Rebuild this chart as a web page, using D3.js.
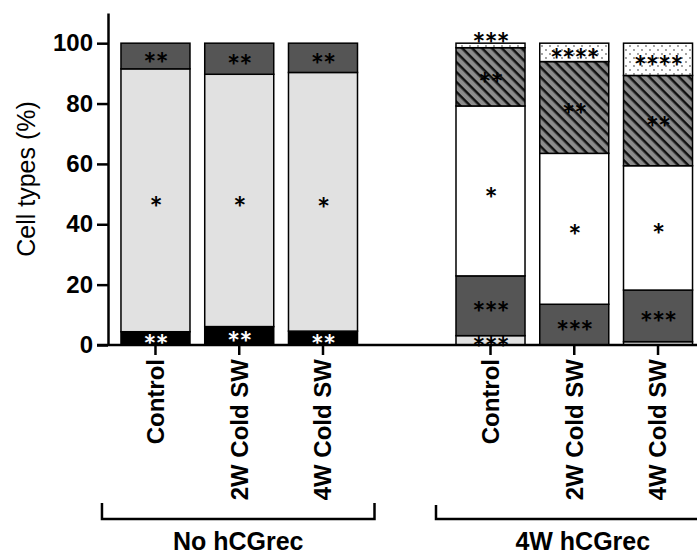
<!DOCTYPE html>
<html>
<head>
<meta charset="utf-8">
<script src="https://cdn.jsdelivr.net/npm/d3@7"></script>
<style>
    body { margin: 0; background: #fff; }
    svg { display: block; font-family: "Liberation Sans", Arial, Helvetica, sans-serif; }
    .axis path, .axis line { stroke: #000; stroke-width: 2.5; }
    .axis text { font-size: 24px; font-weight: bold; fill: #000; }
    .seg { stroke: #000; stroke-width: 1.5; }
    .star { font-family: Lato, sans-serif; font-weight: bold; font-size: 31px; letter-spacing: -1px; text-anchor: middle; }
    .group_label { font-size: 25px; font-weight: bold; text-anchor: middle; }
</style>
</head>
<body>
<svg id="chart" width="697" height="557"></svg>
<script>
// bars, left to right (a blank slot separates the two groups)
let categories = ["Control", "2W Cold SW", "4W Cold SW", "Control", "2W Cold SW", "4W Cold SW"],
    slots = ["a0", "a1", "a2", "gap", "b0", "b1", "b2"],
    barSlots = ["a0", "a1", "a2", "b0", "b1", "b2"];

let groups = ["No hCGrec", "4W hCGrec"];

// cell type shares (%), bottom to top of each bar
let black   = [4.4, 6.1, 4.6, 0, 0, 0],
    light   = [87.1, 83.6, 85.7, 3.1, 0, 1.1],
    dark    = [8.5, 10.3, 9.7, 19.8, 13.5, 17.1],
    white   = [0, 0, 0, 56.3, 50.0, 41.2],
    hatched = [0, 0, 0, 19.3, 30.4, 29.9],
    dotted  = [0, 0, 0, 1.5, 6.1, 10.7];

// significance marks on each segment
let blackMarks   = ["**", "**", "**", "", "", ""],
    lightMarks   = ["*", "*", "*", "***", "", ""],
    darkMarks    = ["**", "**", "**", "***", "***", "***"],
    whiteMarks   = ["", "", "", "*", "*", "*"],
    hatchedMarks = ["", "", "", "**", "**", "**"],
    dottedMarks  = ["", "", "", "***", "****", "****"];

let yTicks = [0, 20, 40, 60, 80, 100];

let keys = ["black", "light", "dark", "white", "hatched", "dotted"],
    values = {black, light, dark, white, hatched, dotted},
    marks = {black: blackMarks, light: lightMarks, dark: darkMarks,
             white: whiteMarks, hatched: hatchedMarks, dotted: dottedMarks};

let fills = {
    black: "#000",
    light: "#e1e1e1",
    dark: "#555",
    white: "#fff",
    hatched: "url(#hatch)",
    dotted: "url(#dots)"
};

let svg = d3.select("#chart");

let defs = svg.append("defs");
let hatch = defs.append("pattern")
    .attr("id", "hatch")
    .attr("patternUnits", "userSpaceOnUse")
    .attr("width", 7)
    .attr("height", 7)
    .attr("patternTransform", "rotate(45)");
hatch.append("rect").attr("width", 7).attr("height", 7).attr("fill", "#8c8c8c");
hatch.append("line")
    .attr("x1", 0).attr("y1", 0).attr("x2", 7).attr("y2", 0)
    .attr("stroke", "#111").attr("stroke-width", 5);

let dots = defs.append("pattern")
    .attr("id", "dots")
    .attr("patternUnits", "userSpaceOnUse")
    .attr("width", 8)
    .attr("height", 8);
dots.append("rect").attr("width", 8).attr("height", 8).attr("fill", "#fff");
dots.append("circle").attr("cx", 2).attr("cy", 2).attr("r", 0.9).attr("fill", "#777");
dots.append("circle").attr("cx", 6).attr("cy", 6).attr("r", 0.9).attr("fill", "#777");

let y = d3.scaleLinear()
    .domain([0, 110])
    .range([345, 13]);

let x = d3.scaleBand()
    .domain(slots)
    .range([113.6, 699.9])
    .paddingInner(0.176)
    .paddingOuter(0.088);

let rows = barSlots.map((s, i) => {
    let r = {slot: s, i: i};
    keys.forEach(k => r[k] = values[k][i]);
    return r;
});

let series = d3.stack().keys(keys)(rows);

// segments
svg.append("g")
    .selectAll("g")
    .data(series)
    .enter()
    .append("g")
    .attr("fill", d => fills[d.key])
    .selectAll("rect")
    .data(d => d.filter(p => p[1] - p[0] > 0))
    .enter()
    .append("rect")
    .attr("class", "seg")
    .attr("x", d => x(d.data.slot))
    .attr("width", x.bandwidth())
    .attr("y", d => y(d[1]))
    .attr("height", d => y(d[0]) - y(d[1]));

// significance stars
let starData = [];
series.forEach(s => {
    s.forEach(p => {
        let m = marks[s.key][p.data.i];
        if(!m) return;
        let top = y(p[1]), bottom = y(p[0]),
            cy = (top + bottom) / 2;
        if(p[1] >= 99.9 && bottom - top < 8) cy = top - 7;
        starData.push({
            text: m,
            x: x(p.data.slot) + x.bandwidth() / 2,
            y: cy,
            color: s.key === "black" ? "#fff" : "#000"
        });
    });
});

svg.append("g")
    .selectAll("text")
    .data(starData)
    .enter()
    .append("text")
    .attr("class", "star")
    .attr("x", d => d.x)
    .attr("y", d => d.y)
    .attr("dy", "0.6em")
    .attr("fill", d => d.color)
    .text(d => d.text);

// y axis
svg.append("g")
    .attr("class", "axis")
    .attr("transform", "translate(108,0)")
    .call(d3.axisLeft(y).tickValues(yTicks).tickSize(11).tickPadding(4).tickSizeOuter(0));

svg.append("text")
    .attr("transform", "translate(35," + (y(0) + y(110)) / 2 + ") rotate(-90)")
    .attr("text-anchor", "middle")
    .style("font-size", "25px")
    .text("Cell types (%)");

// x axis
let xAxis = svg.append("g")
    .attr("class", "axis")
    .attr("transform", "translate(0," + y(0) + ")")
    .call(d3.axisBottom(x).tickValues(barSlots).tickSize(10)
        .tickFormat((d, i) => categories[i]));

xAxis.select(".domain").remove();
xAxis.append("line")
    .attr("x1", 97).attr("x2", 697)
    .attr("y1", 0).attr("y2", 0);

xAxis.selectAll(".tick text")
    .attr("transform", "rotate(-90)")
    .attr("x", -14)
    .attr("y", 0)
    .attr("dy", "0.35em")
    .style("text-anchor", "end");

// group brackets
let brackets = [
    {label: groups[0], x0: x("a0") - 19, x1: x("a2") + x.bandwidth() + 17, top: 503},
    {label: groups[1], x0: x("b0") - 20, x1: x("b2") + x.bandwidth() + 37, top: 505}
];

let bg = svg.append("g")
    .selectAll("g")
    .data(brackets)
    .enter()
    .append("g");

bg.append("path")
    .attr("d", d => "M" + d.x0 + "," + d.top + "V519H" + d.x1 + "V" + d.top)
    .attr("fill", "none")
    .attr("stroke", "#000")
    .attr("stroke-width", 2.5);

bg.append("text")
    .attr("class", "group_label")
    .attr("x", d => (d.x0 + d.x1) / 2)
    .attr("y", 550)
    .text(d => d.label);
</script>
</body>
</html>
